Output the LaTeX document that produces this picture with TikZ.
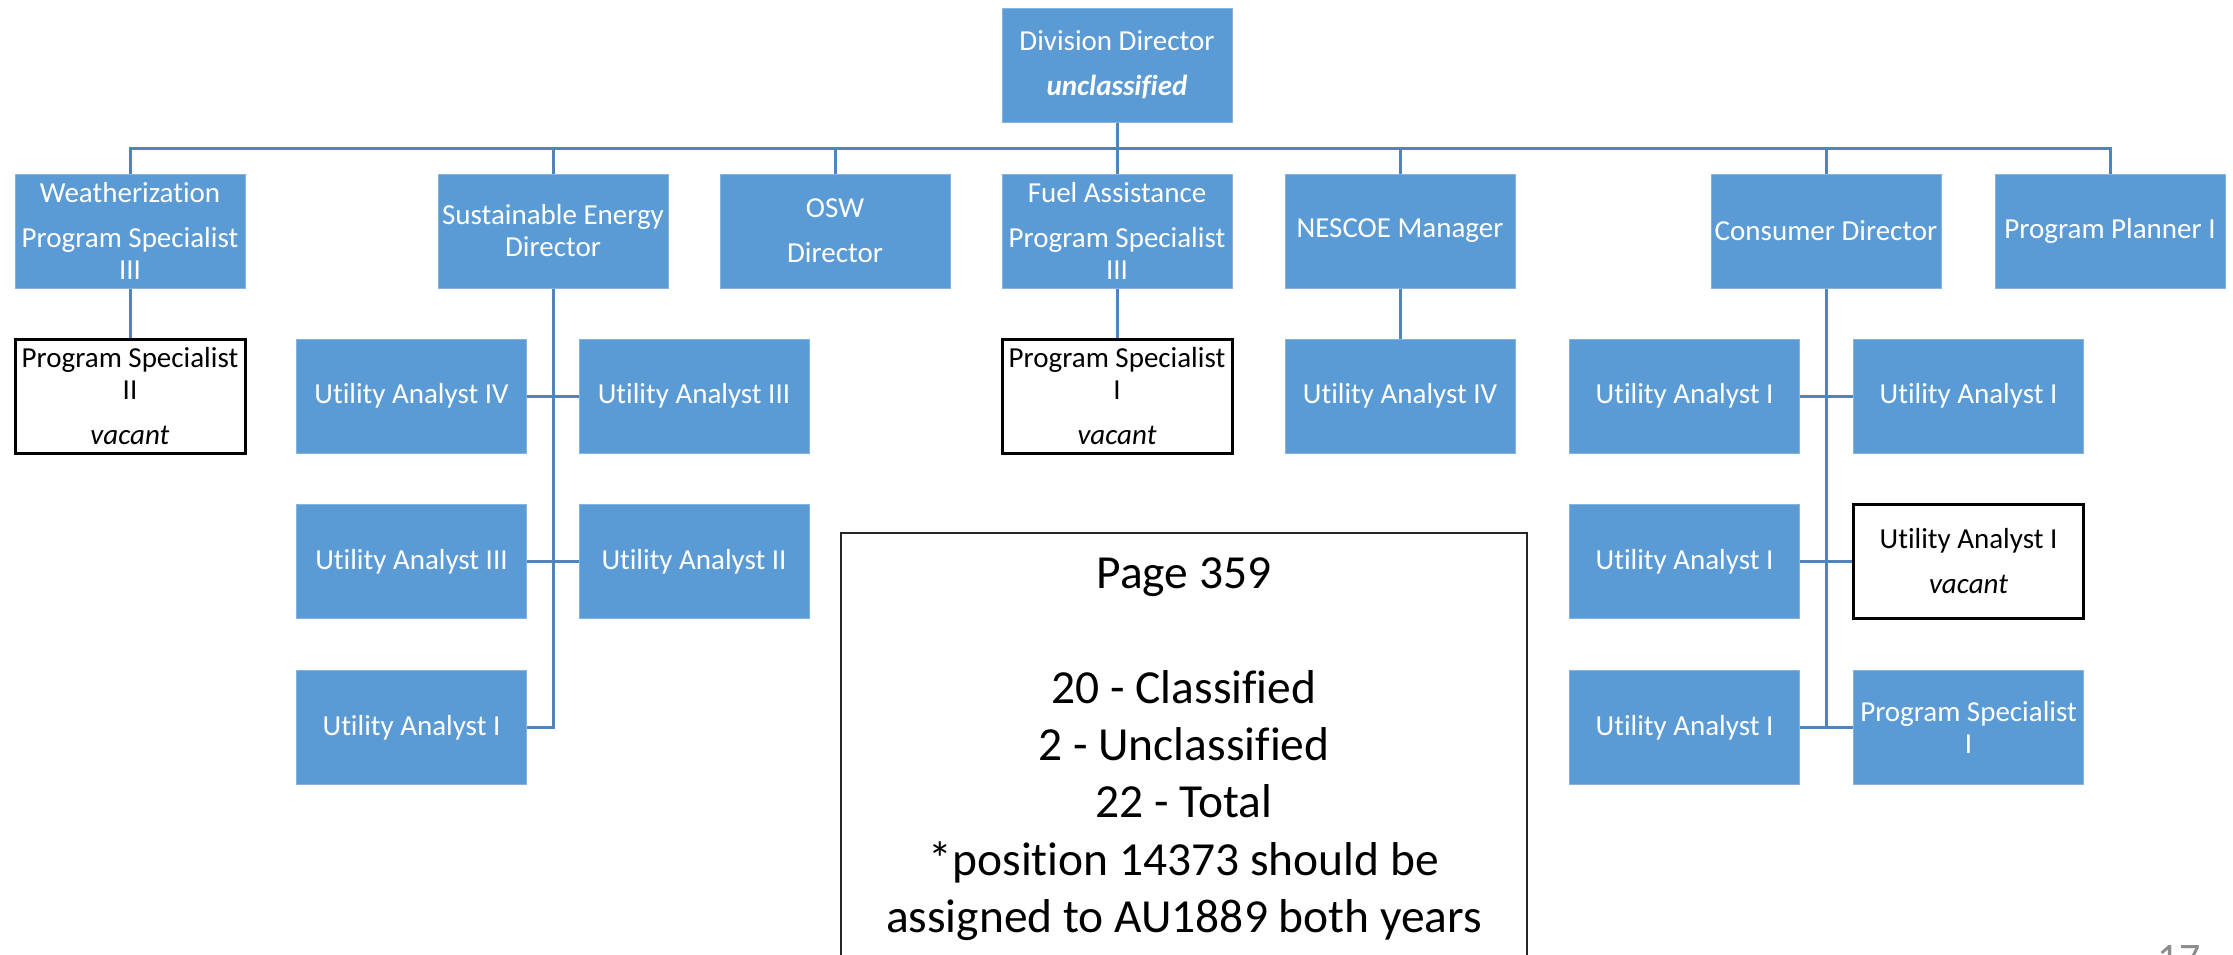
\documentclass[tikz,border=0pt]{standalone}
\usepackage{fontspec}
\setmainfont{Carlito}[Ligatures=NoCommon]
\usepackage{tikz}

\definecolor{boxblue}{HTML}{5B9BD5}
\definecolor{linkblue}{HTML}{4F84BF}
\newcommand{\postgap}{\\[9.75pt]}

\tikzset{
  post/.style={fill=boxblue, draw=boxblue!75!white, line width=0.75pt, text=white,
    minimum width=172.5pt, minimum height=85.5pt, inner sep=1pt, align=center,
    font=\fontsize{21.75}{24}\selectfont},
  vacant/.style={post, fill=white, draw=black, line width=2.25pt, text=black},
  link/.style={draw=linkblue, line width=2.25pt},
  notebox/.style={draw=black!85, line width=1.5pt, minimum width=514.5pt, minimum height=330pt, inner sep=0pt},
  notetext/.style={align=center, inner sep=0pt, font=\fontsize{35.6}{43.1}\selectfont}
}

\begin{document}
\begin{tikzpicture}[x=0.75pt,y=0.75pt,yscale=-1,xscale=1]
  \useasboundingbox (0,0) rectangle (2233,954);

  \node[post] (dd) at (1117,65) {Division Director\postgap\textbf{\textit{unclassified}}};

  \node[post] (wz) at (130,231) {Weatherization\postgap Program Specialist\\III};
  \node[post] (se) at (553,231) {Sustainable Energy\\Director};
  \node[post] (osw) at (835,231) {OSW\postgap Director};
  \node[post] (fa) at (1117,231) {Fuel Assistance\postgap Program Specialist\\III};
  \node[post] (nm) at (1400,231) {NESCOE Manager};
  \node[post] (cd) at (1826,231) {Consumer Director};
  \node[post] (pp) at (2110,231) {Program Planner I};

  \node[vacant] (ps2) at (130,396) {Program Specialist\\II\postgap\textit{vacant}};

  \node[post] (ua4) at (411.5,396) {Utility Analyst IV};
  \node[post] (ua3a) at (694,396) {Utility Analyst III};
  \node[post] (ua3b) at (411.5,561.5) {Utility Analyst III};
  \node[post] (ua2) at (694,561.5) {Utility Analyst II};
  \node[post] (ua1) at (411.5,727.5) {Utility Analyst I};

  \node[vacant] (ps1) at (1117,396) {Program Specialist\\I\postgap\textit{vacant}};
  \node[post] (ua4n) at (1400,396) {Utility Analyst IV};

  \node[post] (cua1) at (1684.5,396) {Utility Analyst I};
  \node[post] (cua2) at (1968.5,396) {Utility Analyst I};
  \node[post] (cua3) at (1684.5,561.5) {Utility Analyst I};
  \node[vacant] (cua4) at (1968.5,561.5) {Utility Analyst I\postgap\textit{vacant}};
  \node[post] (cua5) at (1684.5,727.5) {Utility Analyst I};
  \node[post] (cps1) at (1968.5,727.5) {Program Specialist\\I};

  % totals box runs off the page
  \node[notebox, anchor=north] (notes) at (1184,532) {};
  \node[notetext, anchor=north] (totals) at (1184,557) {Page 359\\ \\20 - Classified\\2 - Unclassified\\22 - Total\\*position 14373 should be\\assigned to AU1889 both years};

  \node[anchor=north, inner sep=0pt, text=black!45, font=\fontsize{31.5}{36}\selectfont] (pageno) at (2179,945) {17};

  \coordinate (bus) at (1117,148);
  \draw[link] (dd.south) -- (bus);
  \draw[link] (wz.north) |- (bus) -| (pp.north);
  \foreach \n in {se,osw,fa,nm,cd}
    \draw[link] (\n.north) -- (\n.north |- bus);

  \draw[link] (wz) -- (ps2);
  \draw[link] (fa) -- (ps1);
  \draw[link] (nm) -- (ua4n);

  \draw[link] (se.south) |- (ua1.east);
  \draw[link] (ua4.east) -- (ua3a.west);
  \draw[link] (ua3b.east) -- (ua2.west);

  \draw[link] (cd.south) -- (cd.south |- cua5.east);
  \draw[link] (cua1.east) -- (cua2.west);
  \draw[link] (cua3.east) -- (cua4.west);
  \draw[link] (cua5.east) -- (cps1.west);
\end{tikzpicture}
\end{document}
